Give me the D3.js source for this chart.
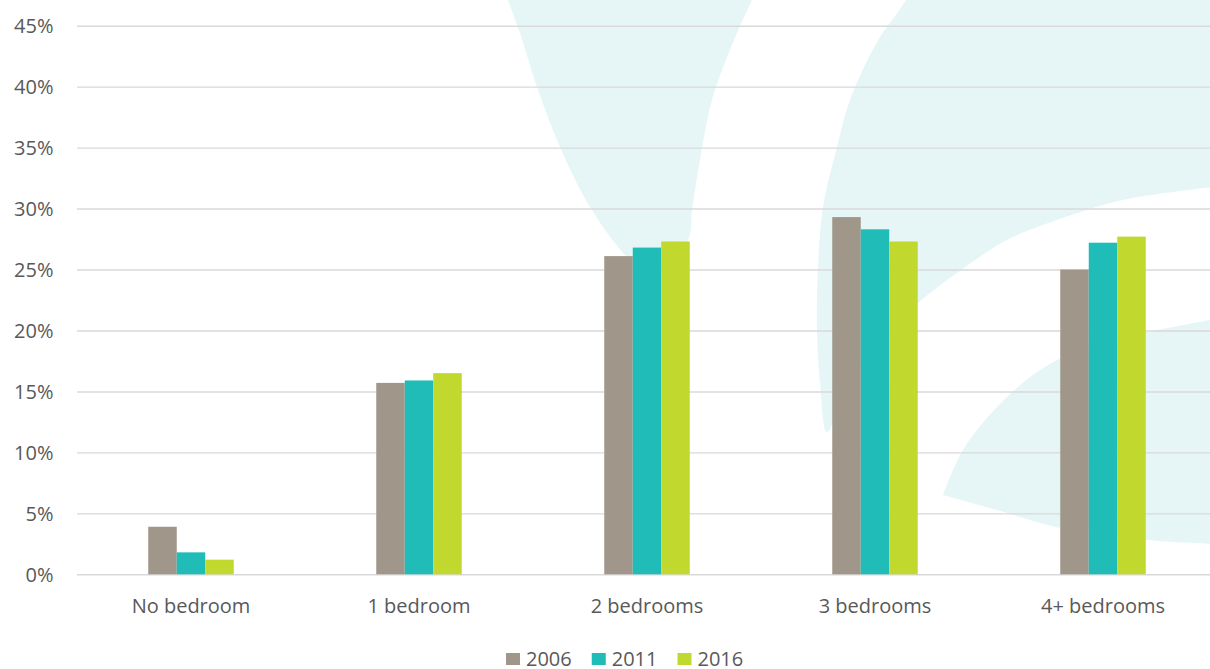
<!DOCTYPE html>
<html>
<head>
<meta charset="utf-8">
<script src="https://cdn.jsdelivr.net/npm/d3@7"></script>
<style>
  html, body { margin: 0; padding: 0; background: #ffffff; }
  svg { display: block; }
  text { font-family: "Open Sans", "Noto Sans", sans-serif; fill: #595959; }
</style>
</head>
<body>
<svg id="chart" width="1210" height="669"></svg>
<script>
// Share of dwellings by number of bedrooms, census years 2006 / 2011 / 2016
const categories = ["No bedroom", "1 bedroom", "2 bedrooms", "3 bedrooms", "4+ bedrooms"];
const years = ["2006", "2011", "2016"];
const values2006 = [3.9, 15.7, 26.1, 29.3, 25.0];
const values2011 = [1.8, 15.9, 26.8, 28.3, 27.2];
const values2016 = [1.2, 16.5, 27.3, 27.3, 27.7];
const yTicks = [0, 5, 10, 15, 20, 25, 30, 35, 40, 45];
const colors = ["#a0968a", "#20bdb8", "#c1d92f"];

const seriesValues = [values2006, values2011, values2016];
const rows = categories.map((c, i) => ({
  category: c,
  values: years.map((y, j) => ({ year: y, value: seriesValues[j][i], color: colors[j] }))
}));

const svg = d3.select("#chart");
const plotLeft = 77, plotRight = 1217, plotTop = 25.7, plotBottom = 574.3;

// Decorative background motif (light petals behind the plot)
const motif = svg.append("g").attr("fill", "#e6f6f7");
const curve = d3.line().curve(d3.curveCatmullRom.alpha(0.5));
const tail = pts => curve(pts).replace(/^M/, "L");

const petalEdge = [[505,-10],[508,0],[520,33],[537,87],[560,147],[590,207],[627,257],[652,275],
                   [688,240],[692,210],[700,160],[712,100],[730,50],[752,0],[757,-10]];
motif.append("path").attr("d", curve(petalEdge) + "Z");

const arcEdge = [[909,-5],[898,12],[877,42],[850,100],[837,147],[823,207],[818,267],
                 [817,333],[820,383],[827,432],[850,380],[880,340],[918,303],[957,273],[1007,240],
                 [1057,220],[1123,200],[1215,187]];
motif.append("path").attr("d", curve(arcEdge) + "L1220,-20L900,-20Z");

const wedgeUpper = [[943,495],[963,450],[997,407],[1040,370],[1090,345],[1147,332],[1215,319]];
const wedgeLower = [[1215,544],[1147,540],[1060,528],[997,510],[943,495]];
motif.append("path").attr("d", curve(wedgeUpper) + tail(wedgeLower) + "Z");

const x0 = d3.scaleBand().domain(categories).range([plotLeft, plotRight]).paddingInner(0).paddingOuter(0);
const x1 = d3.scaleBand().domain(years).range([0, x0.bandwidth()]).paddingInner(0).paddingOuter(2.5);
const y = d3.scaleLinear().domain([0, 45]).range([plotBottom, plotTop]);

// Gridlines + y labels
const yAxis = svg.append("g")
  .attr("transform", `translate(${plotLeft},0)`)
  .call(d3.axisLeft(y).tickValues(yTicks).tickSize(-(plotRight - plotLeft)).tickPadding(23.5).tickFormat(d => d + "%"));
yAxis.select(".domain").remove();
yAxis.selectAll(".tick line").attr("stroke", "#d9d9d9").attr("stroke-width", 1.4);
yAxis.selectAll(".tick text")
  .attr("font-size", 20).attr("fill", "#595959").attr("dy", "0.35em")
  .style("font-family", '"Open Sans", sans-serif');

// Bars
const groups = svg.append("g").selectAll("g").data(rows).join("g")
  .attr("transform", d => `translate(${x0(d.category)},0)`);
groups.selectAll("rect").data(d => d.values).join("rect")
  .attr("x", d => x1(d.year))
  .attr("width", x1.bandwidth())
  .attr("y", d => y(d.value))
  .attr("height", d => y(0) - y(d.value))
  .attr("fill", d => d.color);

// Category labels
const xAxis = svg.append("g")
  .attr("transform", `translate(0,${plotBottom})`)
  .call(d3.axisBottom(x0).tickSize(0).tickPadding(25));
xAxis.select(".domain").remove();
xAxis.selectAll(".tick text")
  .attr("font-size", 20).attr("fill", "#595959")
  .style("font-family", '"Open Sans", sans-serif');

// Legend
const legend = svg.append("g").attr("transform", "translate(506,0)");
let lx = 0;
years.forEach((yr, i) => {
  legend.append("rect").attr("x", lx).attr("y", 653).attr("width", 14).attr("height", 12).attr("fill", colors[i]);
  const t = legend.append("text").attr("x", lx + 20).attr("y", 666).attr("font-size", 20).text(yr);
  lx += 20 + t.node().getComputedTextLength() + 20;
});
</script>
</body>
</html>
